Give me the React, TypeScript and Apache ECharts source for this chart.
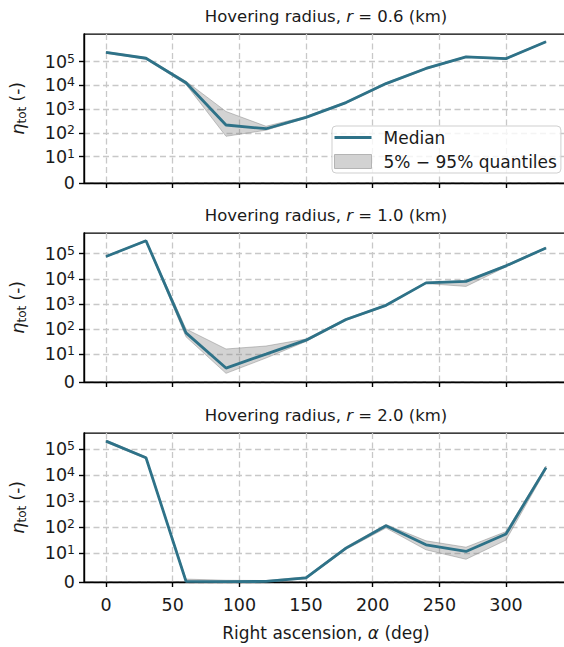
import React, { useEffect, useRef } from "react";
import * as echarts from "echarts";

// Right ascension of each sample (deg)
const ascension = [0, 30, 60, 90, 120, 150, 180, 210, 240, 270, 300, 330];

// Hovering radii (km) of the three panels
const radii = ["0.6", "1.0", "2.0"];

// r = 0.6 km
const medianR06 = [2.45e5, 1.4e5, 1.3e4, 215, 150, 450, 1.9e3, 1.2e4, 5.2e4, 1.6e5, 1.35e5, 7.0e5];
const q05R06 = [2.25e5, 1.3e5, 1.1e4, 72, 130, 420, 1.75e3, 1.1e4, 4.8e4, 1.5e5, 1.25e5, 6.6e5];
const q95R06 = [2.65e5, 1.5e5, 1.5e4, 800, 190, 490, 2.05e3, 1.3e4, 5.6e4, 1.7e5, 1.45e5, 7.4e5];

// r = 1.0 km
const medianR10 = [7.8e4, 3.3e5, 70, 5, 10, 36, 240, 880, 6.9e3, 7.9e3, 3.3e4, 1.7e5];
const q05R10 = [7.4e4, 3.1e5, 49, 3.1, 8.6, 32, 220, 820, 6.5e3, 5.0e3, 3.0e4, 1.6e5];
const q95R10 = [8.2e4, 3.5e5, 100, 16, 21, 40, 260, 940, 7.3e3, 8.3e3, 3.6e4, 1.8e5];

// r = 2.0 km
const medianR20 = [2.1e5, 4.8e4, 0.25, 0.1, 0.2, 1.4, 15.7, 115, 21, 11.7, 55, 2.0e4];
const q05R20 = [1.9e5, 4.4e4, 0.1, 0.05, 0.1, 1.1, 14, 94, 13.5, 7.9, 32, 1.7e4];
const q95R20 = [2.3e5, 5.2e4, 1.0, 0.6, 0.5, 1.8, 17.5, 128, 30, 17, 68, 2.3e4];

// Axis ticks
const xTicks = [0, 50, 100, 150, 200, 250, 300];
const yTickValues = [0, 10, 100, 1e3, 1e4, 1e5];
const X_MIN = -16.5;
const X_MAX = 346.5;

const panels = [
  { radius: radii[0], median: medianR06, lower: q05R06, upper: q95R06 },
  { radius: radii[1], median: medianR10, lower: q05R10, upper: q95R10 },
  { radius: radii[2], median: medianR20, lower: q05R20, upper: q95R20 },
];

// Symmetric-log scale: linear below 10, logarithmic above.
const LIN_THRESH = 10;
const LIN_SCALE = 1 / (1 - 1 / 10);
const symlog = (v: number) =>
  v <= LIN_THRESH ? (v / LIN_THRESH) * LIN_SCALE : LIN_SCALE + Math.log10(v / LIN_THRESH);

const FONT = "DejaVu Sans";
const TEXT = "#1a1a1a";
const MEDIAN_COLOR = "#2e7288";
const BAND_FILL = "rgba(128,128,128,0.35)";
const BAND_EDGE = "rgba(128,128,128,0.45)";
const GRID_LINE = "#c8c8c8";
const BAND_NAME = "5% \u2212 95% quantiles";
const SPINE = { color: "#000", width: 1.4 };

const GRID_LEFT = 84;
const GRID_WIDTH = 484;
const GRID_TOPS = [34, 233, 433];
const GRID_HEIGHT = 149;

function yLabel(value: number) {
  const idx = yTickValues.findIndex((t) => Math.abs(symlog(t) - value) < 1e-6);
  if (idx <= 0) return "{n|0}";
  return "{n|10}{s|" + idx + "}";
}

const plain = { fontFamily: FONT, fontWeight: "normal", color: TEXT };
const dashed = { show: true, lineStyle: { color: GRID_LINE, width: 1.3, type: [6, 3.5] } };

function buildOption() {
  const grid = GRID_TOPS.map((top) => ({
    left: GRID_LEFT,
    top,
    width: GRID_WIDTH,
    height: GRID_HEIGHT,
    show: true,
    borderColor: "#000",
    borderWidth: 1.25,
    backgroundColor: "transparent",
  }));

  const title = panels.map((p, i) => ({
    text: "{n|Hovering radius, }{i|r}{n| = " + p.radius + " (km)}",
    left: GRID_LEFT + GRID_WIDTH / 2,
    textAlign: "center",
    top: GRID_TOPS[i] - 28,
    padding: 0,
    textStyle: {
      ...plain,
      fontSize: 16.5,
      rich: {
        n: { ...plain, fontSize: 16.5, lineHeight: 20 },
        i: { ...plain, fontSize: 16.5, fontStyle: "italic", lineHeight: 20 },
      },
    },
  }));

  const xAxis = panels.map((_, i) => ({
    type: "value",
    gridIndex: i,
    min: X_MIN,
    max: X_MAX,
    axisLine: { show: true, onZero: false, lineStyle: SPINE },
    axisTick: { show: true, customValues: xTicks, length: 5, lineStyle: SPINE },
    axisLabel: {
      show: i === panels.length - 1,
      customValues: xTicks,
      margin: 14,
      ...plain,
      fontSize: 17.5,
    },
    splitLine: dashed,
    name: i === panels.length - 1 ? "{n|Right ascension, }{i|\u03b1}{n| (deg)}" : "",
    nameLocation: "middle",
    nameGap: 41,
    nameTextStyle: {
      ...plain,
      rich: {
        n: { ...plain, fontSize: 17, lineHeight: 20 },
        i: { ...plain, fontSize: 17, fontStyle: "italic", lineHeight: 20 },
      },
    },
  }));

  const yTicks = yTickValues.map(symlog);

  const yAxis = panels.map((p, i) => ({
    type: "value",
    gridIndex: i,
    min: 0,
    max: 1.05 * Math.max(...p.upper.map(symlog)),
    axisLine: { show: true, onZero: false, lineStyle: SPINE },
    axisTick: { show: true, customValues: yTicks, length: 5, lineStyle: SPINE },
    axisLabel: {
      customValues: yTicks,
      margin: 9,
      formatter: yLabel,
      rich: {
        n: { ...plain, fontSize: 17.5, lineHeight: 20 },
        s: { ...plain, fontSize: 12.5, lineHeight: 12, verticalAlign: "top" },
      },
    },
    splitLine: dashed,
    name: "{e|\u03b7}{s|tot}{n| (-)}",
    nameLocation: "middle",
    nameRotate: 90,
    nameGap: 56,
    nameTextStyle: {
      ...plain,
      rich: {
        e: { ...plain, fontSize: 18, fontStyle: "italic", lineHeight: 22 },
        s: { ...plain, fontSize: 12, lineHeight: 12, verticalAlign: "bottom" },
        n: { ...plain, fontSize: 17, lineHeight: 22 },
      },
    },
  }));

  const series: any[] = [];
  panels.forEach((p, i) => {
    // Quantile band as a polygon: upper edge left to right, lower edge back.
    series.push({
      type: "custom",
      name: BAND_NAME,
      xAxisIndex: i,
      yAxisIndex: i,
      silent: true,
      z: 1,
      data: [[ascension[0], symlog(p.median[0])]],
      renderItem: (_params: any, api: any) => {
        const top = ascension.map((x, j) => api.coord([x, symlog(p.upper[j])]));
        const bottom = ascension
          .map((x, j) => api.coord([x, symlog(p.lower[j])]))
          .reverse();
        return {
          type: "polygon",
          shape: { points: top.concat(bottom) },
          style: { fill: BAND_FILL, stroke: BAND_EDGE, lineWidth: 1 },
        };
      },
    });
    series.push({
      type: "line",
      name: "Median",
      xAxisIndex: i,
      yAxisIndex: i,
      showSymbol: false,
      symbol: "none",
      silent: true,
      itemStyle: { color: MEDIAN_COLOR },
      lineStyle: { color: MEDIAN_COLOR, width: 2.8 },
      data: ascension.map((x, j) => [x, symlog(p.median[j])]),
      z: 3,
    });
  });

  return {
    animation: false,
    backgroundColor: "#fff",
    title,
    grid,
    xAxis,
    yAxis,
    legend: {
      show: true,
      orient: "vertical",
      left: 332,
      top: 126,
      padding: [3, 4, 3, 2],
      itemGap: 7,
      itemWidth: 37,
      itemHeight: 14,
      selectedMode: false,
      backgroundColor: "rgba(255,255,255,0.8)",
      borderColor: "#cfcfcf",
      borderWidth: 1,
      borderRadius: 4,
      z: 10,
      textStyle: { ...plain, fontSize: 17, padding: [0, 0, 0, 7] },
      data: [
        {
          name: "Median",
          icon: "path://M0,0H37V3H0Z",
          itemStyle: { color: MEDIAN_COLOR, borderWidth: 0 },
        },
        {
          name: BAND_NAME,
          icon: "rect",
          itemStyle: { color: "#d2d2d2", borderColor: "#b4b4b4", borderWidth: 1 },
        },
      ],
    },
    series,
  };
}

export default function App() {
  const ref = useRef<HTMLDivElement>(null);

  useEffect(() => {
    if (!ref.current) return;
    const chart = echarts.init(ref.current, undefined, { renderer: "svg" });
    chart.setOption(buildOption() as any);
    return () => chart.dispose();
  }, []);

  return (
    <div
      style={{
        position: "fixed",
        left: 0,
        top: 0,
        width: 564,
        height: 647,
        overflow: "hidden",
        background: "#fff",
      }}
    >
      <div ref={ref} style={{ width: 600, height: 647 }} />
    </div>
  );
}
